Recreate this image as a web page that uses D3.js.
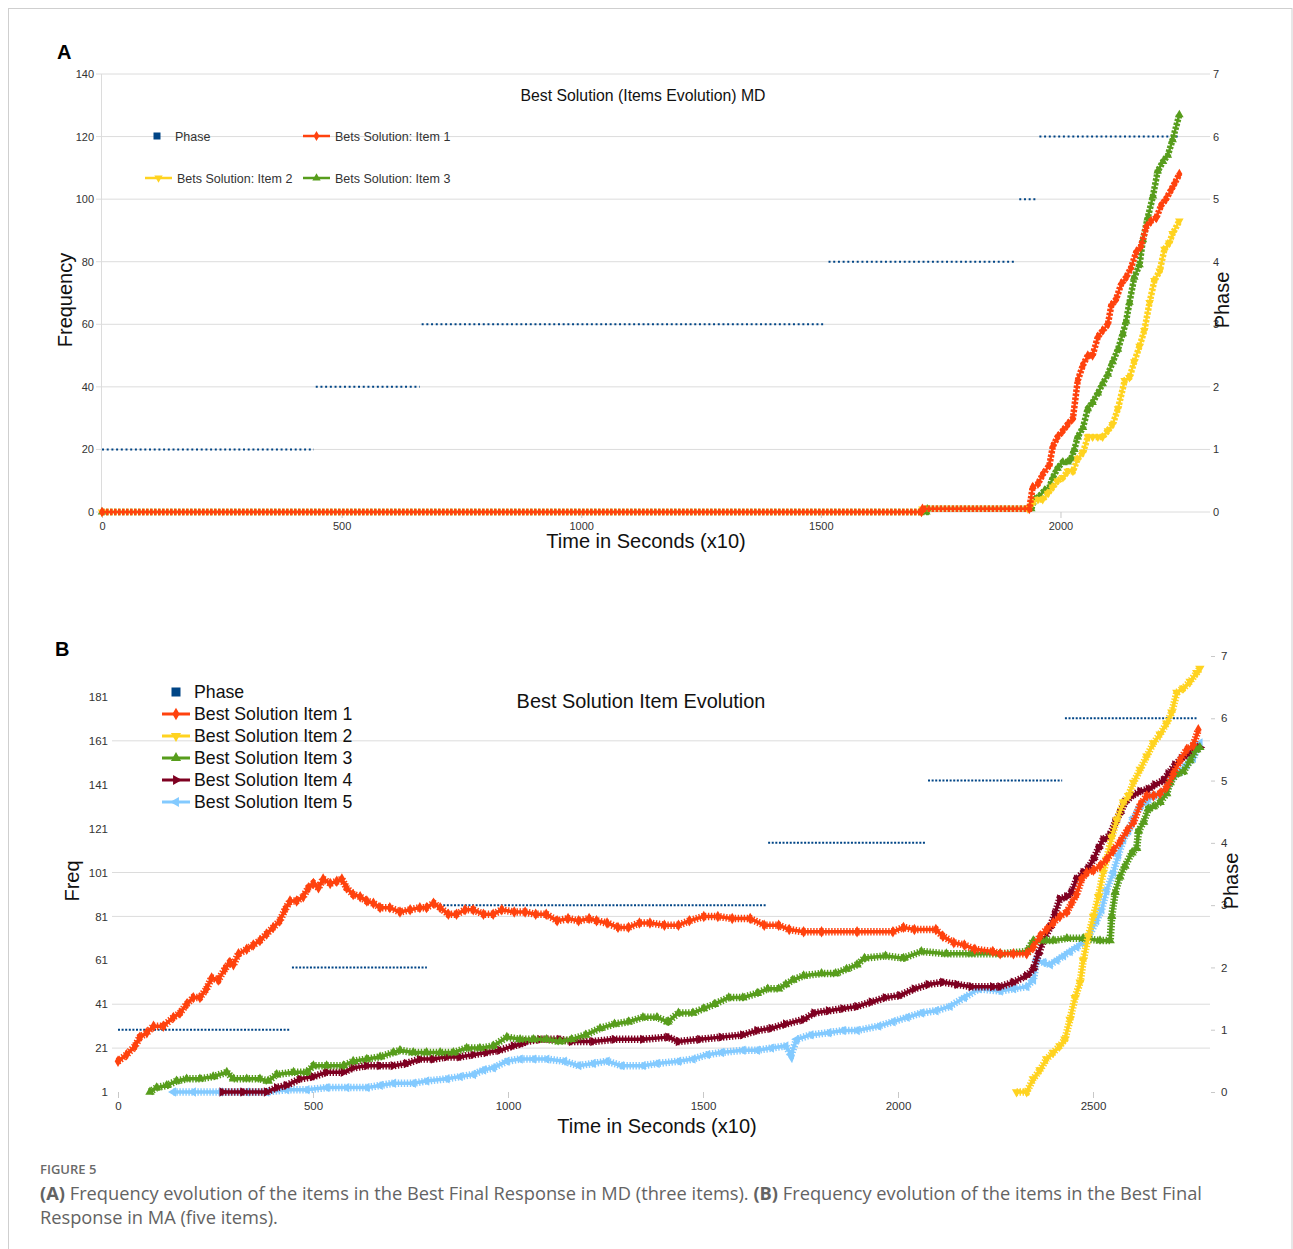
<!DOCTYPE html>
<html>
<head>
<meta charset="utf-8">
<script src="https://cdn.jsdelivr.net/npm/d3@7/dist/d3.min.js"></script>
<style>
  body { margin: 0; background: #fff; }
  svg text { font-family: "Liberation Sans", Arial, sans-serif; }
  svg text.caption { font-family: "Open Sans", sans-serif; }
</style>
</head>
<body>
<svg id="fig" width="1293" height="1249"></svg>
<script>
// ---- data: [time (x10 s), frequency] ----

// panel A (MD, three items)
const itemA1 = [[0,0],[1710,0],[1712,1],[1935,1],[1942,8],[1953,9],[1963,12],[1977,15],[1984,21],[1994,24],[2005,26],[2015,28],[2026,30],[2036,42],[2047,47],[2057,50],[2067,50],[2078,56],[2088,58],[2099,60],[2106,66],[2116,68],[2127,73],[2137,75],[2147,78],[2158,83],[2168,85],[2179,91],[2189,93],[2200,94],[2210,98],[2220,100],[2231,103],[2238,105],[2248,108]];
const itemA2 = [[0,0],[1710,0],[1712,1],[1932,1],[1942,3],[1953,4],[1963,4],[1974,6],[1984,8],[1994,10],[2005,11],[2015,13],[2026,13],[2036,17],[2047,19],[2057,24],[2067,24],[2078,24],[2088,24],[2099,26],[2109,28],[2120,33],[2134,42],[2144,43],[2154,48],[2165,53],[2175,58],[2186,67],[2196,74],[2207,77],[2217,84],[2227,86],[2234,89],[2248,93]];
const itemA3 = [[0,0],[1720,0],[1722,1],[1939,1],[1946,4],[1956,5],[1967,7],[1977,8],[1984,11],[1994,14],[2005,16],[2015,16],[2022,17],[2029,20],[2036,24],[2047,27],[2057,33],[2067,35],[2078,38],[2088,41],[2099,44],[2109,48],[2120,52],[2130,57],[2137,61],[2144,67],[2154,75],[2165,79],[2172,87],[2182,94],[2193,101],[2203,109],[2214,112],[2224,114],[2234,119],[2248,127]];
// phase runs: [phase, first time, last time]
const phaseA = [[1,0,442],[2,446,663],[3,667,1510],[4,1516,1908],[5,1914,1948],[6,1956,2248]];

// panel B (MA, five items)
const itemB1 = [[0,15],[22,18],[44,22],[56,26],[74,28],[91,31],[116,31],[142,35],[159,37],[176,41],[193,44],[210,44],[227,48],[240,53],[257,52],[274,57],[287,60],[296,59],[309,64],[330,66],[347,68],[364,70],[381,73],[398,76],[415,79],[428,84],[441,88],[458,88],[475,90],[488,94],[501,96],[514,94],[526,98],[544,96],[561,97],[574,98],[586,94],[603,91],[621,90],[638,88],[655,87],[672,85],[697,85],[723,83],[749,84],[774,85],[791,85],[809,87],[826,85],[847,82],[868,82],[890,84],[911,84],[937,82],[962,82],[984,84],[1016,83],[1044,83],[1071,82],[1098,82],[1126,79],[1154,80],[1181,79],[1208,80],[1227,79],[1254,78],[1282,76],[1309,76],[1337,78],[1364,78],[1401,77],[1437,77],[1465,79],[1502,81],[1538,81],[1575,80],[1621,80],[1657,77],[1694,77],[1721,75],[1758,74],[1804,74],[1895,74],[1987,74],[2014,76],[2042,75],[2097,75],[2115,72],[2143,69],[2170,68],[2197,66],[2243,65],[2262,64],[2296,64],[2330,64],[2347,67],[2364,72],[2381,75],[2398,78],[2415,81],[2433,83],[2445,87],[2458,91],[2471,98],[2484,101],[2501,102],[2518,104],[2535,107],[2552,111],[2569,115],[2587,120],[2604,124],[2621,132],[2638,136],[2655,136],[2672,137],[2689,140],[2706,146],[2723,152],[2740,157],[2757,159],[2770,166]];
const itemB2 = [[2304,1],[2330,1],[2347,7],[2364,11],[2381,16],[2398,19],[2415,22],[2428,25],[2441,34],[2454,44],[2467,51],[2475,61],[2488,72],[2501,81],[2514,90],[2526,101],[2535,107],[2548,117],[2561,125],[2578,133],[2591,136],[2604,142],[2621,148],[2638,154],[2655,160],[2672,164],[2689,169],[2702,174],[2715,183],[2732,185],[2749,188],[2766,192],[2774,194]];
const itemB3 = [[82,1],[99,3],[125,4],[150,6],[176,7],[210,7],[244,8],[279,10],[296,7],[330,7],[364,7],[385,6],[407,9],[450,10],[484,10],[501,13],[535,13],[578,13],[603,15],[638,16],[672,17],[706,19],[723,20],[757,19],[791,19],[826,19],[860,19],[894,21],[928,21],[962,22],[997,26],[1031,25],[1065,25],[1099,25],[1133,24],[1163,25],[1199,27],[1236,30],[1273,32],[1309,33],[1346,35],[1382,35],[1410,33],[1437,37],[1474,37],[1501,39],[1529,41],[1566,44],[1602,44],[1639,46],[1666,48],[1694,48],[1712,50],[1730,52],[1758,54],[1804,55],[1840,55],[1868,57],[1895,59],[1914,62],[1968,63],[2014,62],[2060,65],[2124,64],[2188,64],[2262,64],[2330,65],[2347,70],[2364,70],[2381,70],[2398,70],[2433,71],[2475,71],[2518,70],[2544,70],[2548,81],[2557,92],[2569,99],[2582,104],[2600,110],[2612,112],[2617,120],[2630,124],[2642,130],[2655,131],[2672,133],[2689,137],[2698,142],[2715,146],[2732,147],[2749,152],[2766,157],[2774,158]];
const itemB4 = [[267,1],[321,1],[381,1],[407,3],[432,4],[467,7],[501,8],[535,10],[578,10],[603,12],[638,13],[672,13],[706,13],[740,14],[774,16],[809,16],[843,17],[877,17],[911,18],[945,19],[979,20],[1014,22],[1034,23],[1048,24],[1082,25],[1133,25],[1163,24],[1218,24],[1273,25],[1346,25],[1410,26],[1437,24],[1492,25],[1547,26],[1602,27],[1639,29],[1675,30],[1712,32],[1758,34],[1785,37],[1822,38],[1859,39],[1895,40],[1932,42],[1968,44],[2005,45],[2042,48],[2078,50],[2115,51],[2152,50],[2188,49],[2243,49],[2262,49],[2296,51],[2330,54],[2347,57],[2360,64],[2373,70],[2390,76],[2402,82],[2415,89],[2433,90],[2445,92],[2458,98],[2475,101],[2488,103],[2501,107],[2514,112],[2526,116],[2544,118],[2557,124],[2569,128],[2582,133],[2600,136],[2621,138],[2642,139],[2659,141],[2681,143],[2693,146],[2710,150],[2727,153],[2744,155],[2766,158],[2774,158]];
const itemB5 = [[142,1],[193,1],[262,1],[330,1],[381,1],[432,2],[484,2],[535,3],[586,3],[638,3],[672,4],[706,5],[757,5],[791,6],[843,7],[877,8],[911,9],[937,11],[962,12],[997,15],[1031,16],[1065,16],[1099,16],[1144,15],[1181,13],[1218,14],[1254,15],[1291,13],[1346,13],[1382,14],[1437,15],[1474,16],[1511,18],[1547,19],[1602,20],[1639,20],[1675,21],[1712,22],[1726,18],[1740,25],[1776,27],[1822,28],[1859,29],[1895,29],[1950,31],[1987,33],[2023,35],[2060,37],[2097,38],[2133,40],[2170,44],[2207,48],[2262,47],[2296,48],[2330,49],[2347,52],[2356,61],[2373,60],[2390,59],[2407,61],[2424,63],[2441,65],[2458,67],[2475,69],[2492,73],[2509,79],[2522,84],[2535,93],[2552,101],[2565,109],[2578,116],[2591,120],[2604,126],[2621,131],[2638,133],[2655,136],[2672,136],[2689,139],[2706,145],[2723,147],[2740,150],[2757,153],[2774,160]];
const phaseB = [[1,0,441],[2,446,792],[3,797,1662],[4,1667,2072],[5,2077,2421],[6,2428,2769]];

// ticks and labels
const xTicksA = [0, 500, 1000, 1500, 2000];
const yTicksA = [0, 20, 40, 60, 80, 100, 120, 140];
const xTicksB = [0, 500, 1000, 1500, 2000, 2500];
const yTicksB = [1, 21, 41, 61, 81, 101, 121, 141, 161, 181];
const gridB = [21, 41, 81, 101, 161];
const phaseTicks = [0, 1, 2, 3, 4, 5, 6, 7];
const namesA = ["Phase", "Bets Solution: Item 1", "Bets Solution: Item 2", "Bets Solution: Item 3"];
const namesB = ["Phase", "Best Solution Item 1", "Best Solution Item 2", "Best Solution Item 3", "Best Solution Item 4", "Best Solution Item 5"];

// libreoffice default palette + marker per series
const PHASE = "#004586";
const styles = [
  { color: "#ff420e", type: d3.symbolDiamond, rot: 0 },
  { color: "#ffd320", type: d3.symbolTriangle, rot: 180 },
  { color: "#579d1c", type: d3.symbolTriangle, rot: 0 },
  { color: "#7e0021", type: d3.symbolTriangle, rot: 90 },
  { color: "#83caff", type: d3.symbolTriangle, rot: -90 }
];
const fmt = d3.format("d");

const svg = d3.select("#fig");

// outer frame
svg.append("rect")
  .attr("x", 8.5).attr("y", 8.5).attr("width", 1283.5).attr("height", 1300)
  .attr("fill", "none").attr("stroke", "#cfcfcf");

function drawSeries(g, data, x, y, st, opt) {
  const line = d3.line().x(d => x(d[0])).y(d => y(d[1]));
  g.append("path").datum(data)
    .attr("d", line).attr("fill", "none")
    .attr("stroke", st.color).attr("stroke-width", opt.lw)
    .attr("stroke-linejoin", "round");
  // dense marker texture
  g.append("path").datum(data)
    .attr("d", line).attr("fill", "none")
    .attr("stroke", st.color).attr("stroke-width", opt.tw)
    .attr("stroke-dasharray", opt.dash);
  g.selectAll(null).data(data).enter().append("path")
    .attr("d", d3.symbol().type(st.type).size(opt.ms))
    .attr("fill", st.color)
    .attr("transform", d => "translate(" + x(d[0]) + "," + y(d[1]) + ") rotate(" + st.rot + ")");
}

function drawPhase(g, runs, x, y2, dash) {
  g.selectAll(null).data(runs).enter().append("line")
    .attr("x1", d => x(d[1])).attr("x2", d => x(d[2]))
    .attr("y1", d => y2(d[0])).attr("y2", d => y2(d[0]))
    .attr("stroke", PHASE).attr("stroke-width", 2)
    .attr("stroke-dasharray", dash);
}

function styleAxis(ax, size) {
  ax.selectAll("text").attr("fill", "#333").style("font-size", size + "px");
  ax.selectAll("line").attr("stroke", "#c8c8c8");
  ax.select(".domain").remove();
}

// ================= panel A =================
const xA = d3.scaleLinear().domain([0, 2312]).range([102, 1210]);
const yA = d3.scaleLinear().domain([0, 140]).range([512, 74]);
const yA2 = d3.scaleLinear().domain([0, 7]).range([512, 74]);
const gA = svg.append("g");

gA.append("text").attr("x", 57).attr("y", 59).text("A")
  .style("font-size", "20px").style("font-weight", "bold");

gA.selectAll(null).data(yTicksA).enter().append("line")
  .attr("x1", 96).attr("x2", 1210)
  .attr("y1", d => yA(d)).attr("y2", d => yA(d))
  .attr("stroke", "#dcdcdc");
gA.append("line").attr("x1", 101.5).attr("x2", 101.5).attr("y1", 74).attr("y2", 512)
  .attr("stroke", "#dcdcdc");

const axA = gA.append("g").attr("transform", "translate(96,0)")
  .call(d3.axisLeft(yA).tickValues(yTicksA).tickFormat(fmt).tickSize(0).tickPadding(2));
styleAxis(axA, 11);
const axA2 = gA.append("g").attr("transform", "translate(1210,0)")
  .call(d3.axisRight(yA2).tickValues(phaseTicks).tickFormat(fmt).tickSize(0).tickPadding(3));
styleAxis(axA2, 11);
const axAx = gA.append("g").attr("transform", "translate(0,512)")
  .call(d3.axisBottom(xA).tickValues(xTicksA).tickFormat(fmt).tickSize(6).tickPadding(4));
styleAxis(axAx, 11);

drawPhase(gA, phaseA, xA, yA2, "2 2.7");
[[itemA3, 2], [itemA2, 1], [itemA1, 0]].forEach(([d, i]) =>
  drawSeries(gA, d, xA, yA, styles[i], { lw: 2.5, tw: 6.5, dash: "2.5 1.5", ms: 32 }));

gA.append("text").attr("x", 643).attr("y", 101).attr("text-anchor", "middle")
  .text("Best Solution (Items Evolution) MD").style("font-size", "15.8px").attr("fill", "#111");
gA.append("text").attr("x", 646).attr("y", 548).attr("text-anchor", "middle")
  .text("Time in Seconds (x10)").style("font-size", "20px").attr("fill", "#111");
gA.append("text").attr("transform", "translate(72,300) rotate(-90)").attr("text-anchor", "middle")
  .text("Frequency").style("font-size", "20px").attr("fill", "#111");
gA.append("text").attr("transform", "translate(1229,300) rotate(-90)").attr("text-anchor", "middle")
  .text("Phase").style("font-size", "20px").attr("fill", "#111");

// legend A, 2x2
const legA = [[157, 136], [303, 136], [145, 178], [303, 178]];
legA.forEach(([lx, ly], i) => {
  const lg = gA.append("g").attr("transform", "translate(" + lx + "," + ly + ")");
  if (i === 0) {
    lg.append("rect").attr("x", -3.5).attr("y", -3.5).attr("width", 7).attr("height", 7).attr("fill", PHASE);
    lg.append("text").attr("x", 18).attr("y", 4.5).text(namesA[0]).style("font-size", "12.5px").attr("fill", "#333");
  } else {
    const st = styles[i - 1];
    lg.append("line").attr("x1", 0).attr("x2", 27).attr("stroke", st.color).attr("stroke-width", 2.5);
    lg.append("path").attr("d", d3.symbol().type(st.type).size(30)())
      .attr("fill", st.color).attr("transform", "translate(13.5,0) rotate(" + st.rot + ")");
    lg.append("text").attr("x", 32).attr("y", 4.5).text(namesA[i]).style("font-size", "12.5px").attr("fill", "#333");
  }
});

// ================= panel B =================
const xB = d3.scaleLinear().domain([0, 2800]).range([118, 1210]);
const yB = d3.scaleLinear().domain([1, 200.1]).range([1092, 655]);
const yB2 = d3.scaleLinear().domain([0, 7]).range([1092, 656]);
const gB = svg.append("g");

gB.append("text").attr("x", 55).attr("y", 656).text("B")
  .style("font-size", "20px").style("font-weight", "bold");

gB.selectAll(null).data(gridB).enter().append("line")
  .attr("x1", 112).attr("x2", 1210)
  .attr("y1", d => yB(d)).attr("y2", d => yB(d))
  .attr("stroke", "#dcdcdc");

const axB = gB.append("g").attr("transform", "translate(110,0)")
  .call(d3.axisLeft(yB).tickValues(yTicksB).tickFormat(fmt).tickSize(0).tickPadding(2));
styleAxis(axB, 11.5);
const axB2 = gB.append("g").attr("transform", "translate(1211,0)")
  .call(d3.axisRight(yB2).tickValues(phaseTicks).tickFormat(fmt).tickSize(4).tickPadding(6));
styleAxis(axB2, 11.5);
const axBx = gB.append("g").attr("transform", "translate(0,1092)")
  .call(d3.axisBottom(xB).tickValues(xTicksB).tickFormat(fmt).tickSize(6).tickPadding(4));
styleAxis(axBx, 11.5);

drawPhase(gB, phaseB, xB, yB2, "2 1.6");
[[itemB5, 4], [itemB4, 3], [itemB3, 2], [itemB2, 1], [itemB1, 0]].forEach(([d, i]) =>
  drawSeries(gB, d, xB, yB, styles[i], { lw: 3.5, tw: 7.5, dash: "1.4 1.6", ms: 38 }));

gB.append("text").attr("x", 641).attr("y", 708).attr("text-anchor", "middle")
  .text("Best Solution Item Evolution").style("font-size", "19.9px").attr("fill", "#111");
gB.append("text").attr("x", 657).attr("y", 1133).attr("text-anchor", "middle")
  .text("Time in Seconds (x10)").style("font-size", "20px").attr("fill", "#111");
gB.append("text").attr("transform", "translate(79,881) rotate(-90)").attr("text-anchor", "middle")
  .text("Freq").style("font-size", "20px").attr("fill", "#111");
gB.append("text").attr("transform", "translate(1238,881) rotate(-90)").attr("text-anchor", "middle")
  .text("Phase").style("font-size", "20px").attr("fill", "#111");

// legend B, one column
namesB.forEach((name, i) => {
  const lg = gB.append("g").attr("transform", "translate(162," + (692 + i * 22) + ")");
  if (i === 0) {
    lg.append("rect").attr("x", 9.5).attr("y", -4.5).attr("width", 9).attr("height", 9).attr("fill", PHASE);
  } else {
    const st = styles[i - 1];
    lg.append("line").attr("x1", 0).attr("x2", 28).attr("stroke", st.color).attr("stroke-width", 3);
    lg.append("path").attr("d", d3.symbol().type(st.type).size(45)())
      .attr("fill", st.color).attr("transform", "translate(14,0) rotate(" + st.rot + ")");
  }
  lg.append("text").attr("x", 32).attr("y", 6).text(name).style("font-size", "17.7px").attr("fill", "#111");
});

// ================= caption =================
svg.append("text").attr("class", "caption").attr("x", 40).attr("y", 1174)
  .text("FIGURE 5").style("font-size", "13px").style("font-weight", "600")
  .attr("fill", "#6a6a6a");
const cap1 = svg.append("text").attr("class", "caption").attr("x", 40).attr("y", 1200)
  .style("font-size", "18.25px").attr("fill", "#636363");
cap1.append("tspan").text("(A)").style("font-weight", "bold");
cap1.append("tspan").text(" Frequency evolution of the items in the Best Final Response in MD (three items). ");
cap1.append("tspan").text("(B)").style("font-weight", "bold");
cap1.append("tspan").text(" Frequency evolution of the items in the Best Final");
svg.append("text").attr("class", "caption").attr("x", 40).attr("y", 1224)
  .style("font-size", "18.25px").attr("fill", "#636363")
  .text("Response in MA (five items).");
</script>
</body>
</html>
